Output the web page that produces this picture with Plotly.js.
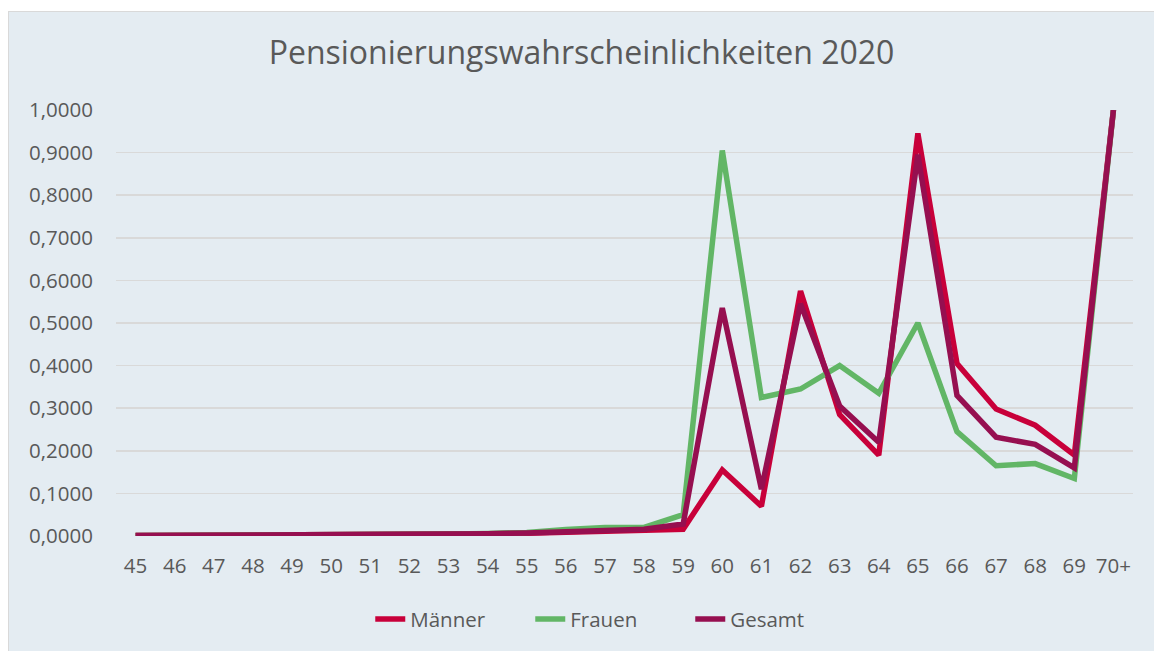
<!DOCTYPE html>
<html>
<head>
<meta charset="utf-8">
<script src="https://cdn.plot.ly/plotly-3.0.1.min.js"></script>
<style>
html,body{margin:0;padding:0;background:#ffffff;}
#chart{position:absolute;left:8px;top:11px;width:1145px;height:639px;border-left:1px solid #D9D9D9;border-top:1px solid #D9D9D9;}
</style>
</head>
<body>
<div id="chart"></div>
<script>
const categories = ["45","46","47","48","49","50","51","52","53","54","55","56","57","58","59","60","61","62","63","64","65","66","67","68","69","70+"];
const maenner = [0.0010,0.0012,0.0015,0.0018,0.0020,0.0022,0.0028,0.0035,0.0042,0.0050,0.0065,0.0085,0.0105,0.0135,0.0160,0.1550,0.0700,0.5750,0.2850,0.1900,0.9450,0.4050,0.2980,0.2600,0.1900,1.0000];
const frauen = [0.0010,0.0012,0.0015,0.0018,0.0020,0.0025,0.0030,0.0038,0.0045,0.0060,0.0085,0.0150,0.0200,0.0200,0.0500,0.9050,0.3250,0.3450,0.4000,0.3350,0.5000,0.2450,0.1650,0.1700,0.1350,1.0000];
const gesamt = [0.0010,0.0012,0.0015,0.0018,0.0020,0.0023,0.0029,0.0036,0.0043,0.0053,0.0072,0.0110,0.0145,0.0160,0.0280,0.5350,0.1100,0.5450,0.3050,0.2200,0.8950,0.3300,0.2320,0.2150,0.1600,1.0000];

const txt = '#595959';
const mk = (name, y, color) => ({
  type:'scatter', mode:'lines', name:name, x:categories, y:y,
  line:{color:color, width:5.5, shape:'linear'}, hoverinfo:'x+y'
});
const data = [
  mk('Männer', maenner, '#C8003A'),
  mk('Frauen', frauen, '#62B666'),
  mk('Gesamt', gesamt, '#960F50')
];
const layout = {
  width:1145, height:639,
  paper_bgcolor:'#E4ECF2', plot_bgcolor:'#E4ECF2',
  separators:',.',
  margin:{l:107, r:21, t:98, b:115, pad:0},
  font:{family:'Open Sans, sans-serif', color:txt, size:20},
  title:{text:'Pensionierungswahrscheinlichkeiten 2020', font:{size:32, color:txt, family:'Open Sans, sans-serif'},
         x:0.5, xanchor:'center', xref:'container', y:1-41/639, yref:'container', yanchor:'middle'},
  xaxis:{type:'category', range:[-0.5, 25.5], showgrid:false, zeroline:false, showline:false,
         ticks:'', tickfont:{size:20.5, color:txt}, ticklabelstandoff:15, automargin:false},
  yaxis:{range:[0,1], dtick:0.1, tick0:0, tickformat:'.4f', showgrid:true, gridcolor:'#D9D9D9', gridwidth:1.5,
         zeroline:false, showline:false, ticks:'', tickfont:{size:20.5, color:txt}, ticklabelstandoff:22, automargin:false},
  showlegend:true,
  legend:{orientation:'h', x:0.486, xanchor:'center', y:-0.195, yanchor:'middle', font:{size:20.5, color:txt},
          bgcolor:'rgba(0,0,0,0)', entrywidth:115, entrywidthmode:'pixels', traceorder:'normal'}
};
Plotly.newPlot('chart', data, layout, {displayModeBar:false, staticPlot:true});
</script>
</body>
</html>
